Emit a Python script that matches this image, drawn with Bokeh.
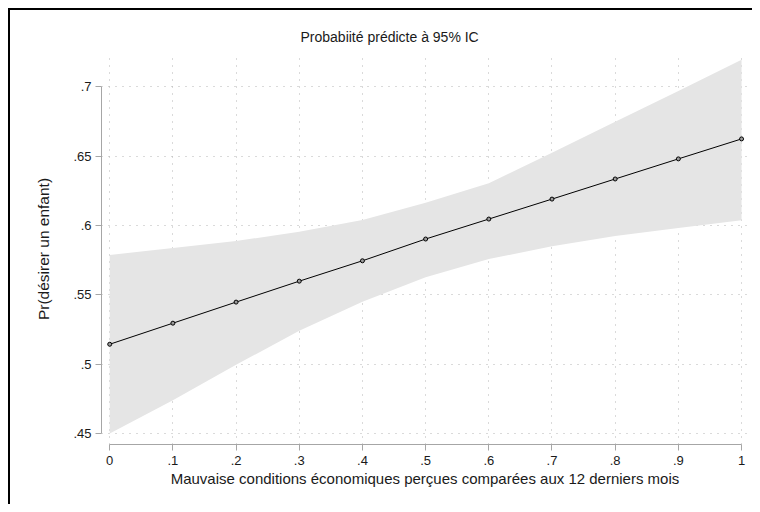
from bokeh.plotting import figure
from bokeh.models import FixedTicker, Range1d, Title, ColumnDataSource
from bokeh.embed import file_html
from bokeh.resources import INLINE

# Data
x_vals = [0.0, 0.1, 0.2, 0.3, 0.4, 0.5, 0.6, 0.7, 0.8, 0.9, 1.0]
pred = [0.5143, 0.5295, 0.5447, 0.5598, 0.5745, 0.5902, 0.6046, 0.6190, 0.6335, 0.6480, 0.6624]
ci_upper = [0.5786, 0.5837, 0.5887, 0.5955, 0.6040, 0.6164, 0.6305, 0.6525, 0.6748, 0.6970, 0.7195]
ci_lower = [0.4500, 0.4740, 0.4995, 0.5240, 0.5450, 0.5627, 0.5757, 0.5850, 0.5923, 0.5982, 0.6038]

x_ticks = [0.0, 0.1, 0.2, 0.3, 0.4, 0.5, 0.6, 0.7, 0.8, 0.9, 1.0]
x_tick_labels = ["0", ".1", ".2", ".3", ".4", ".5", ".6", ".7", ".8", ".9", "1"]
y_ticks = [0.45, 0.5, 0.55, 0.6, 0.65, 0.7]
y_tick_labels = [".45", ".5", ".55", ".6", ".65", ".7"]

title_text = "Probabiité prédicte à 95% IC"
x_title = "Mauvaise conditions économiques perçues comparées aux 12 derniers mois"
y_title = "Pr(désirer un enfant)"

FONT = "Liberation Sans"

src = ColumnDataSource(dict(x=x_vals, y=pred, lo=ci_lower, hi=ci_upper))

p = figure(width=744, height=496, output_backend="svg", toolbar_location=None,
           x_range=Range1d(-0.013, 1.011), y_range=Range1d(0.442, 0.724),
           min_border_left=91, min_border_right=6, min_border_top=43, min_border_bottom=62)
p.styles = {"border-left": "2px solid black", "border-top": "2px solid black",
            "margin-left": "8px", "margin-top": "8px"}
p.outline_line_color = None
p.background_fill_color = "white"
p.border_fill_color = "white"

p.varea(x="x", y1="lo", y2="hi", source=src, fill_color="#e5e5e5")
p.line(x="x", y="y", source=src, line_color="black", line_width=1)
p.scatter(x="x", y="y", source=src, size=4, marker="circle",
          line_color="black", fill_color="#9a9a9a", line_width=1)

t = Title(text=title_text, align="left", offset=199, text_font=FONT,
          text_font_size="14px", text_font_style="normal", text_color="#1a1a1a",
          standoff=17)
p.add_layout(t, "above")

for ax, ticks, labels, bnd in ((p.xaxis[0], x_ticks, x_tick_labels, (0, 1)),
                               (p.yaxis[0], y_ticks, y_tick_labels, (0.45, 0.7))):
    ax.ticker = FixedTicker(ticks=ticks)
    ax.major_label_overrides = {t_: l for t_, l in zip(ticks, labels)}
    ax.bounds = bnd
    ax.axis_line_color = "#a6a6a6"
    ax.major_tick_line_color = "#a6a6a6"
    ax.minor_tick_line_color = None
    ax.major_tick_out = 6
    ax.major_tick_in = 0
    ax.major_label_text_font = FONT
    ax.major_label_text_font_size = "13px"
    ax.major_label_text_color = "#1a1a1a"
    ax.axis_label_text_font = FONT
    ax.axis_label_text_font_style = "normal"
    ax.axis_label_text_color = "#1a1a1a"

p.xaxis.axis_label = x_title
p.yaxis.axis_label = y_title
p.xaxis.axis_label_text_font_size = "15px"
p.yaxis.axis_label_text_font_size = "15.5px"
p.xaxis.major_label_standoff = 5
p.yaxis.major_label_standoff = 4
p.yaxis.major_label_orientation = "horizontal"
p.xaxis.axis_label_standoff = 2
p.yaxis.axis_label_standoff = 18

p.xgrid.ticker = FixedTicker(ticks=x_ticks)
p.ygrid.ticker = FixedTicker(ticks=y_ticks)
for g in (p.xgrid[0], p.ygrid[0]):
    g.grid_line_color = "#b4b4b4"
    g.grid_line_dash = "1 6"
    g.grid_line_width = 1

open("out.html", "w").write(file_html(p, INLINE))
